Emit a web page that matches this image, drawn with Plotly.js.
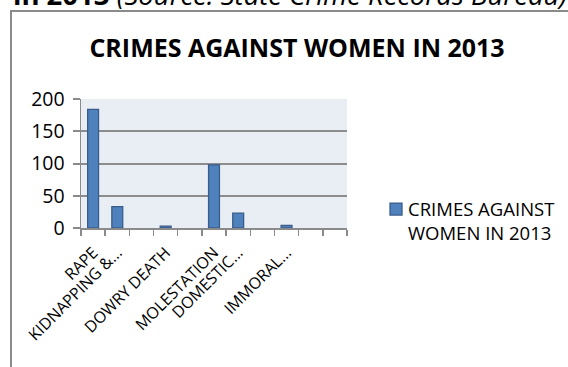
<!DOCTYPE html>
<html>
<head>
<meta charset="utf-8">
<script src="https://cdn.plot.ly/plotly-3.0.1.min.js"></script>
<style>
  html, body { margin: 0; padding: 0; background: #fff; overflow: hidden; }
  #frame { position: absolute; left: 10px; top: 10px; width: 700px; height: 500px;
           border: 2px solid #8a8a8a; box-sizing: border-box; }
  #chart { position: absolute; left: 0; top: 0; width: 568px; height: 367px; }
</style>
</head>
<body>
<div id="frame"></div>
<div id="chart"></div>
<script>
// Data
const categories = ["RAPE", "KIDNAPPING &...", "", "DOWRY DEATH", "", "MOLESTATION",
                    "DOMESTIC...", "", "IMMORAL...", "", ""];
const values = [184, 33, null, 3, null, 98, 23, null, 4, null, null];
const seriesName = "CRIMES AGAINST<br>WOMEN IN 2013";
const chartTitle = "CRIMES AGAINST WOMEN IN 2013";
const yTicks = [0, 50, 100, 150, 200];

const idx = categories.map((c, i) => String(i));

const font = "'Open Sans', Lato, sans-serif";

const trace = {
  type: "bar",
  x: idx,
  y: values,
  name: seriesName,
  marker: { color: "#4f81bd", line: { color: "#385d8a", width: 1.3 } },
  showlegend: true,
  hoverinfo: "skip"
};

const layout = {
  width: 568, height: 367,
  margin: { l: 81, r: 221, t: 99, b: 139, pad: 0, autoexpand: false },
  paper_bgcolor: "rgba(0,0,0,0)",
  plot_bgcolor: "#e9edf4",
  font: { family: font, color: "#000", size: 14 },
  title: {
    text: "<b>" + chartTitle + "</b>",
    font: { family: font, size: 25, color: "#000" },
    x: 0.523, xanchor: "center", y: 0.868, yanchor: "middle"
  },
  bargap: 0.55,
  xaxis: {
    type: "category",
    tickvals: idx,
    ticktext: categories,
    tickson: "boundaries",
    ticks: "outside", ticklen: 6, tickwidth: 1.5, tickcolor: "#8a8a8a",
    showline: true, linecolor: "#8a8a8a", linewidth: 2,
    tickangle: -45,
    tickfont: { family: font, size: 16, color: "#000" },
    ticklabelstandoff: 7,
    showgrid: false, zeroline: false,
    range: [-0.5, 10.5]
  },
  yaxis: {
    range: [0, 200],
    tickvals: yTicks,
    ticks: "outside", ticklen: 7, tickwidth: 2, tickcolor: "#8a8a8a",
    showline: true, linecolor: "#8a8a8a", linewidth: 1.5,
    showgrid: true, gridcolor: "#8c8c8c", gridwidth: 2,
    zeroline: false,
    tickfont: { family: font, size: 19.5, color: "#000" },
    ticklabelstandoff: 4
  },
  showlegend: true,
  legend: {
    x: 1.079, xref: "paper", xanchor: "left", y: 0.29, yanchor: "top",
    valign: "top",
    font: { family: font, size: 18.5, color: "#000" },
    bgcolor: "rgba(0,0,0,0)",
    itemwidth: 30
  },
  annotations: [{
    xref: "paper", yref: "paper",
    x: -0.265, y: 1.65, xanchor: "left", yanchor: "bottom",
    showarrow: false,
    text: "<b>in 2013</b> <i>(Source: State Crime Records Bureau)</i>",
    font: { family: font, size: 27.5, color: "#000" }
  }]
};

Plotly.newPlot("chart", [trace], layout, { staticPlot: true, displayModeBar: false }).then(() => {
  document.querySelectorAll("#chart .legend .legendpoints").forEach(g => {
    g.setAttribute("transform", "translate(8,0)");
  });
});
</script>
</body>
</html>
